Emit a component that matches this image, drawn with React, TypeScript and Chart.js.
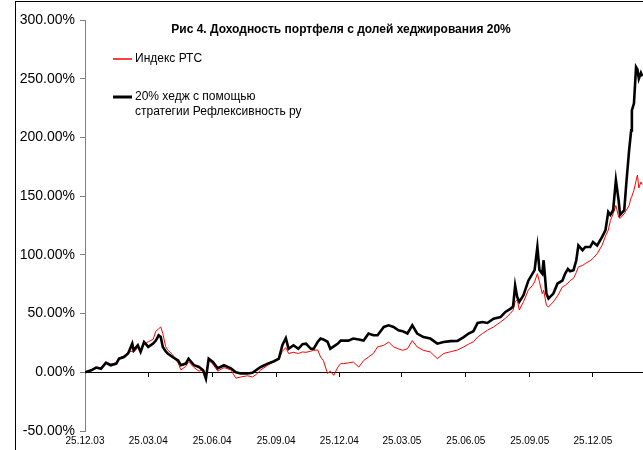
import React, { useEffect, useRef } from 'react';
import { Chart, registerables } from 'chart.js';

Chart.register(...registerables);

const TITLE = 'Рис 4. Доходность портфеля с долей хеджирования 20%';
const LABEL_RTS = 'Индекс РТС';
const LABEL_HEDGE = ['20% хедж с помощью', 'стратегии Рефлексивность ру'];

// x ticks: days since 25.12.03
const tickDays = [0, 91, 183, 275, 366, 456, 548, 640, 731];
const tickLabels = ['25.12.03', '25.03.04', '25.06.04', '25.09.04', '25.12.04', '25.03.05', '25.06.05', '25.09.05', '25.12.05'];

const days = [
  0, 9, 16, 23, 30, 37, 45, 49, 56, 62,
  68, 70, 76, 80, 85, 91, 98, 102, 106, 109,
  112, 116, 119, 126, 134, 138, 145, 149, 157, 164,
  170, 174, 178, 184, 191, 200, 210, 217, 224, 234,
  241, 246, 253, 263, 272, 279, 284, 289, 293, 300,
  307, 313, 318, 325, 329, 335, 339, 343, 349, 353,
  358, 364, 368, 372, 379, 386, 394, 401, 408, 415,
  421, 430, 437, 444, 451, 457, 464, 471, 478, 487,
  497, 507, 516, 526, 536, 545, 552, 559, 565, 572,
  579, 588, 598, 605, 612, 616, 619, 622, 625, 631,
  638, 644, 647, 651, 654, 658, 660, 664, 667, 674,
  680, 687, 691, 695, 698, 703, 707, 710, 716, 720,
  727, 731, 737, 744, 749, 753, 756, 760, 764, 768,
  770, 776, 779, 783, 786, 787, 790, 793, 795, 797,
  800, 802,
];

const hedge = [
  0, 1.7, 4, 3, 8, 6, 7.4, 11.6, 13, 16,
  24.4, 18.7, 23, 17.3, 25.8, 21.6, 24.4, 27, 31.5, 30,
  21.6, 18, 16, 13, 10, 6, 7.4, 11.6, 6, 4.5,
  1.7, -5.4, 11.6, 8.8, 3.4, 6, 3.4, 0, -1, -1,
  -0.5, 1.7, 4.5, 7.4, 9.4, 11.6, 23, 29, 20, 23,
  20, 24, 24.4, 20, 20, 26, 28.7, 28, 26, 20,
  22, 24.4, 27, 27, 27, 28.7, 28, 27, 33, 31.5,
  31.5, 38.6, 40, 38.6, 35.8, 35, 33, 40, 33, 30,
  28.7, 24.4, 25.8, 26.5, 26.7, 30, 33, 35, 42, 42.8,
  42, 45.7, 47, 51.4, 54, 56, 74, 64, 60, 65.6,
  78, 84, 87, 106.7, 87, 84, 95.4, 67, 62.8, 67,
  75.6, 78, 84, 88, 86, 87, 95.4, 108, 104, 106.7,
  106.7, 111, 108, 115, 121, 136.6, 134, 138, 163.6, 146,
  134, 138, 161, 189, 206, 223, 229, 260, 258, 250,
  255, 252,
];

const rts = [
  0, 2, 4.5, 4, 9, 7, 8, 12, 14, 17,
  18, 17, 21, 19, 24, 26, 28, 35, 37, 38.6,
  33, 22, 19, 15, 8, 2, 5, 9, 4, 1,
  2, -1, 10, 7, 1, 4, 2, -5, -4, -3,
  -4, -2, 2, 6, 9, 11, 18, 21, 16, 17,
  16, 17.3, 17, 18, 18.7, 19, 13, 10, -1, 1,
  -2.6, 4.5, 7.4, 7.4, 8, 8.8, 4.5, 10, 13, 16,
  21.6, 23, 25.8, 21.6, 20, 18.7, 20, 27, 21.6, 18.7,
  17.3, 11.6, 16, 17.5, 19, 21.6, 24, 26, 30, 33,
  35.8, 38.6, 42.8, 46, 50, 52.8, 60, 62, 53, 60,
  70, 74, 77, 84, 77, 67, 70, 57, 55.6, 60,
  65, 72.7, 74, 76, 78, 80, 85, 89.7, 91, 92.6,
  95, 97, 101, 108, 116, 121, 129, 135, 142, 132,
  131, 135, 138, 142, 149, 150, 155, 163, 168, 157,
  162, 160,
];

const X_MAX = 803;
const FONT = '"Liberation Sans", Arial, sans-serif';

const overlayPlugin = {
  id: 'overlayText',
  afterDraw(chart: any) {
    const ctx = chart.ctx;
    ctx.save();
    ctx.fillStyle = '#000';
    ctx.textBaseline = 'middle';
    ctx.font = `bold 12px ${FONT}`;
    ctx.textAlign = 'center';
    ctx.fillText(TITLE, 341, 30);

    ctx.textAlign = 'left';
    ctx.font = `12px ${FONT}`;
    // legend: RTS
    ctx.strokeStyle = '#ff0000';
    ctx.lineWidth = 1.5;
    ctx.beginPath();
    ctx.moveTo(113, 59);
    ctx.lineTo(132, 59);
    ctx.stroke();
    ctx.fillText(LABEL_RTS, 135, 59);
    // legend: hedge
    ctx.strokeStyle = '#000';
    ctx.lineWidth = 3;
    ctx.beginPath();
    ctx.moveTo(113, 97);
    ctx.lineTo(132, 97);
    ctx.stroke();
    ctx.fillText(LABEL_HEDGE[0], 135, 97);
    ctx.fillText(LABEL_HEDGE[1], 135, 112);
    ctx.restore();
  },
};

export default function App() {
  const ref = useRef<HTMLCanvasElement | null>(null);

  useEffect(() => {
    if (!ref.current) return;
    const chart = new Chart(ref.current, {
      type: 'line',
      data: {
        datasets: [
          {
            label: LABEL_HEDGE.join(' '),
            data: days.map((d, i) => ({ x: d, y: hedge[i] })),
            borderColor: '#000000',
            borderWidth: 2.6,
            pointRadius: 0,
            tension: 0,
            xAxisID: 'x',
            yAxisID: 'y',
          },
          {
            label: LABEL_RTS,
            data: days.map((d, i) => ({ x: d, y: rts[i] })),
            borderColor: '#ff0000',
            borderWidth: 1,
            pointRadius: 0,
            tension: 0,
            xAxisID: 'x',
            yAxisID: 'y',
          },
        ],
      },
      options: {
        responsive: false,
        animation: false,
        layout: { padding: { top: 20, left: 0, right: 0, bottom: 0 } },
        plugins: {
          legend: { display: false },
          title: { display: false },
          tooltip: { enabled: false },
        },
        scales: {
          x: {
            type: 'linear',
            min: 0,
            max: X_MAX,
            position: { y: 0 } as any,
            afterBuildTicks: (s: any) => {
              s.ticks = tickDays.map((v) => ({ value: v }));
            },
            ticks: { display: false },
            grid: { drawOnChartArea: false, drawTicks: true, tickLength: 4, color: '#000' },
            border: { color: '#000', width: 1 },
          },
          x2: {
            type: 'linear',
            min: 0,
            max: X_MAX,
            position: 'bottom',
            afterBuildTicks: (s: any) => {
              s.ticks = tickDays.map((v) => ({ value: v }));
            },
            afterFit: (s: any) => {
              s.height = 19;
            },
            ticks: {
              autoSkip: false,
              maxRotation: 0,
              padding: 4,
              color: '#000',
              font: { family: FONT, size: 10 },
              callback: (_v: any, i: number) => tickLabels[i],
            },
            grid: { display: false, drawTicks: false },
            border: { display: false },
          },
          y: {
            type: 'linear',
            min: -50,
            max: 300,
            position: 'left',
            afterFit: (s: any) => {
              s.width = 85;
            },
            ticks: {
              stepSize: 50,
              padding: 5,
              color: '#000',
              font: { family: FONT, size: 14 },
              callback: (v: any) => Number(v).toFixed(2) + '%',
            },
            grid: { drawOnChartArea: false, drawTicks: true, tickLength: 5, color: '#808080' },
            border: { color: '#808080', width: 1 },
          },
        },
      },
      plugins: [overlayPlugin],
    });
    return () => chart.destroy();
  }, []);

  return (
    <div
      style={{
        position: 'fixed',
        left: 0,
        top: 0,
        width: 643,
        height: 450,
        background: '#fff',
        overflow: 'hidden',
      }}
    >
      <div
        style={{
          position: 'absolute',
          left: 15,
          top: 1,
          width: 700,
          height: 500,
          borderLeft: '1px solid #000',
          borderTop: '1px solid #000',
        }}
      />
      <canvas ref={ref} width={643} height={450} style={{ position: 'absolute', left: 0, top: 0 }} />
    </div>
  );
}
